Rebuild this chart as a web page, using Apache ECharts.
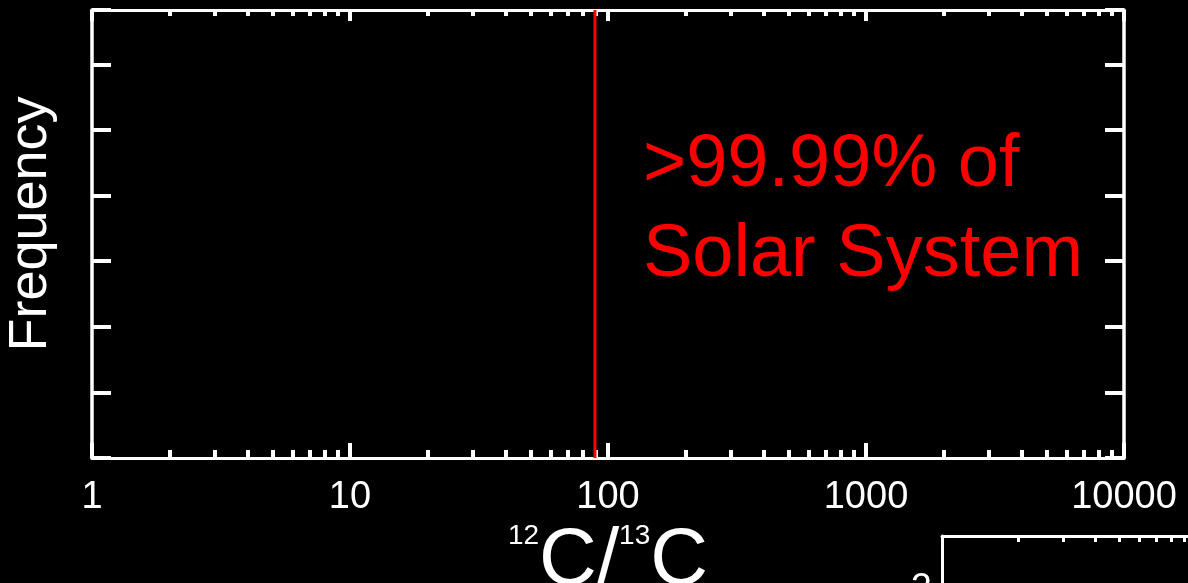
<!DOCTYPE html>
<html>
<head>
<meta charset="utf-8">
<script src="https://cdn.jsdelivr.net/npm/echarts@6/dist/echarts.min.js"></script>
<style>
  html, body { margin: 0; padding: 0; background: #000; }
  #chart { width: 1188px; height: 583px; }
</style>
</head>
<body>
<div id="chart"></div>
<script>
// data
let xMajorTicks = [1, 10, 100, 1000, 10000];
let xMinorSteps = [2, 3, 4, 5, 6, 7, 8, 9];
let freqRange = [0, 6.83];
let solarRatio = [89];
let insetLabels = [2];

let fontFam = '"Liberation Sans", Arial, sans-serif';
let white = '#ffffff';
let red = '#ff0000';

// minor ticks of each decade (2..9, 20..90, ...)
let xMinorTicks = [];
for (let d = 0; d < xMajorTicks.length - 1; d++) {
  for (let s of xMinorSteps) {
    xMinorTicks.push(xMajorTicks[d] * s);
  }
}

function logAxis(opts) {
  'use strict';
  return Object.assign({
    type: 'log',
    logBase: 10,
    min: 1,
    max: 10000,
    gridIndex: 0,
    splitLine: {show: false},
    axisLine: {show: true, onZero: false, lineStyle: {color: white, width: 3}},
    axisLabel: {show: false},
  }, opts);
}

let dom = document.getElementById('chart');
let chart = echarts.init(dom);

let option = {
  backgroundColor: '#000',
  animation: false,
  grid: [
    {left: 92, right: 64, top: 10, bottom: 125, outerBoundsMode: 'none'},
    {left: 942, top: 536, width: 1016, height: 448, outerBoundsMode: 'none'}
  ],
  xAxis: [
    logAxis({
      position: 'bottom',
      axisTick: {inside: true, length: 15, customValues: xMajorTicks, lineStyle: {color: white, width: 4}},
      axisLabel: {
        show: true, customValues: xMajorTicks, margin: 21,
        color: white, fontSize: 38, fontFamily: fontFam,
        formatter: function (v) { return String(v); }
      },
      name: '{sup|12}{big|C/}{sup|13}{big|C}',
      nameLocation: 'middle',
      nameGap: 43,
      nameTextStyle: {
        color: white,
        fontFamily: fontFam,
        rich: {
          sup: {fontSize: 28, lineHeight: 54, verticalAlign: 'top', color: white, fontFamily: fontFam},
          big: {fontSize: 80, lineHeight: 80, color: white, fontFamily: fontFam}
        }
      }
    }),
    logAxis({
      position: 'bottom',
      axisLine: {show: false, onZero: false},
      axisTick: {inside: true, length: 8, customValues: xMinorTicks, lineStyle: {color: white, width: 4}}
    }),
    logAxis({
      position: 'top',
      axisTick: {inside: true, length: 11, customValues: xMajorTicks, lineStyle: {color: white, width: 4}}
    }),
    logAxis({
      position: 'top',
      axisLine: {show: false, onZero: false},
      axisTick: {inside: true, length: 6, customValues: xMinorTicks, lineStyle: {color: white, width: 4}}
    }),
    // inset chart, cut by the bottom edge
    logAxis({
      gridIndex: 1,
      position: 'top',
      axisTick: {inside: true, length: 6, customValues: xMinorTicks, lineStyle: {color: white, width: 3}}
    })
  ],
  yAxis: [
    {
      type: 'value',
      gridIndex: 0,
      position: 'left',
      min: freqRange[0],
      max: freqRange[1],
      interval: 1,
      splitLine: {show: false},
      axisLine: {show: true, onZero: false, lineStyle: {color: white, width: 3.5}},
      axisTick: {inside: true, length: 19, lineStyle: {color: white, width: 4}},
      axisLabel: {show: false},
      name: 'Frequency',
      nameLocation: 'middle',
      nameGap: 34,
      nameTextStyle: {color: white, fontSize: 54, fontFamily: fontFam, padding: [0, 0, 0, 20]}
    },
    {
      type: 'value',
      gridIndex: 0,
      position: 'right',
      min: freqRange[0],
      max: freqRange[1],
      interval: 1,
      splitLine: {show: false},
      axisLine: {show: true, onZero: false, lineStyle: {color: white, width: 3.5}},
      axisTick: {inside: true, length: 19, lineStyle: {color: white, width: 4}},
      axisLabel: {show: false}
    },
    {
      type: 'value',
      gridIndex: 1,
      position: 'left',
      min: 0,
      max: 2.27,
      splitLine: {show: false},
      axisLine: {show: true, onZero: false, lineStyle: {color: white, width: 3}},
      axisTick: {show: false},
      axisLabel: {
        show: true, customValues: insetLabels, margin: 10,
        color: white, fontSize: 38, fontFamily: fontFam
      }
    }
  ],
  graphic: [
    {
      type: 'text',
      left: 643,
      top: 121,
      style: {
        text: '>99.99% of\nSolar System',
        fill: red,
        fontSize: 74,
        lineHeight: 90,
        fontFamily: fontFam
      }
    }
  ],
  series: [
    {
      name: 'Solar System',
      type: 'line',
      xAxisIndex: 0,
      yAxisIndex: 0,
      symbol: 'none',
      silent: true,
      lineStyle: {color: red, width: 3},
      data: [[solarRatio[0], freqRange[0]], [solarRatio[0], freqRange[1]]]
    }
  ]
};

option && chart.setOption(option);
</script>
</body>
</html>
